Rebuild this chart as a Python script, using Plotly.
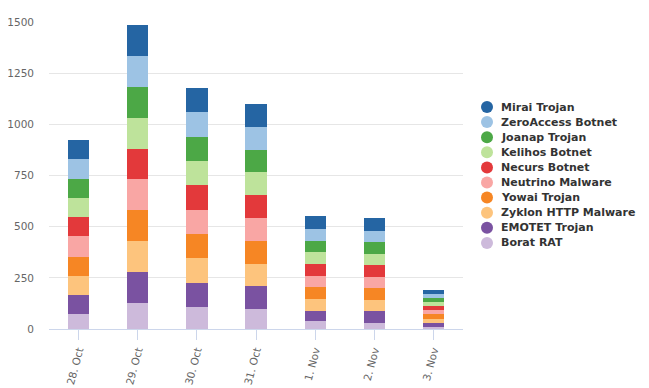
import plotly.graph_objects as go

categories = ["28. Oct", "29. Oct", "30. Oct", "31. Oct", "1. Nov", "2. Nov", "3. Nov"]

series_names = ["Borat RAT", "EMOTET Trojan", "Zyklon HTTP Malware", "Yowai Trojan",
                "Neutrino Malware", "Necurs Botnet", "Kelihos Botnet", "Joanap Trojan",
                "ZeroAccess Botnet", "Mirai Trojan"]

borat = [75, 129, 109, 98, 39, 29, 11]
emotet = [93, 151, 117, 112, 49, 59, 20]
zyklon = [93, 151, 122, 107, 59, 54, 20]
yowai = [93, 151, 117, 112, 59, 59, 20]
neutrino = [98, 151, 117, 112, 54, 54, 20]
necurs = [93, 147, 122, 112, 59, 59, 20]
kelihos = [93, 151, 117, 112, 59, 54, 20]
joanap = [93, 151, 117, 112, 54, 59, 20]
zeroaccess = [98, 151, 122, 112, 59, 54, 20]
mirai = [93, 151, 117, 112, 59, 59, 19]

series_values = [borat, emotet, zyklon, yowai, neutrino, necurs, kelihos, joanap, zeroaccess, mirai]
series_colors = ["#cdbadb", "#7a52a1", "#fdc47d", "#f68624", "#f9a6a4",
                 "#e3393b", "#bee39b", "#4ca846", "#9dc3e4", "#2565a3"]

y_ticks = [0, 250, 500, 750, 1000, 1250, 1500]

# page has an 8px body margin; size the figure to fit the window
W, H = 641, 380
ML, MR, MT, MB = 41, 186, 14, 59
plot_w = W - ML - MR
plot_h = H - MT - MB

fig = go.Figure()
for name, vals, col in zip(series_names, series_values, series_colors):
    fig.add_trace(go.Bar(x=categories, y=vals, name=name, marker_color=col,
                         marker_line_width=0, showlegend=False))

# Custom legend (circle symbols, compact spacing), top entry = last series
legend_top_px = 99
legend_step_px = 15.1
marker_x_px = 479
text_x_px = 491
shapes = []
annotations = []
for i, (name, col) in enumerate(zip(reversed(series_names), reversed(series_colors))):
    py = legend_top_px + i * legend_step_px
    yp = (H - MB - py) / plot_h
    xm = (marker_x_px - ML) / plot_w
    xt = (text_x_px - ML) / plot_w
    shapes.append(dict(type="circle", xref="paper", yref="paper",
                       xsizemode="pixel", ysizemode="pixel",
                       xanchor=xm, yanchor=yp, x0=-6, x1=6, y0=-6, y1=6,
                       fillcolor=col, line=dict(width=0)))
    annotations.append(dict(xref="paper", yref="paper", x=xt, y=yp, text=name,
                            showarrow=False, xanchor="left", yanchor="middle",
                            font=dict(family="DejaVu Sans", size=11, color="#333333",
                                      weight="bold")))

fig.update_layout(
    barmode="stack",
    bargap=0.64,
    width=W, height=H,
    margin=dict(l=ML, r=MR, t=MT, b=MB),
    plot_bgcolor="white", paper_bgcolor="white",
    font=dict(family="DejaVu Sans", size=10.5, color="#666666"),
    showlegend=False,
    shapes=shapes,
    annotations=annotations,
    xaxis=dict(showline=True, linecolor="#ccd6eb", linewidth=1, ticks="outside",
               ticklen=10, tickcolor="#ccd6eb", tickangle=-75, showgrid=False,
               automargin=False, tickfont=dict(size=10.5, color="#666666")),
    yaxis=dict(range=[0, 1500], tickvals=y_ticks, showgrid=True, gridcolor="#e6e6e6",
               zeroline=False, automargin=False, tickfont=dict(size=10.5, color="#666666"),
               ticklabelstandoff=14),
)

fig.write_html("out.html")
